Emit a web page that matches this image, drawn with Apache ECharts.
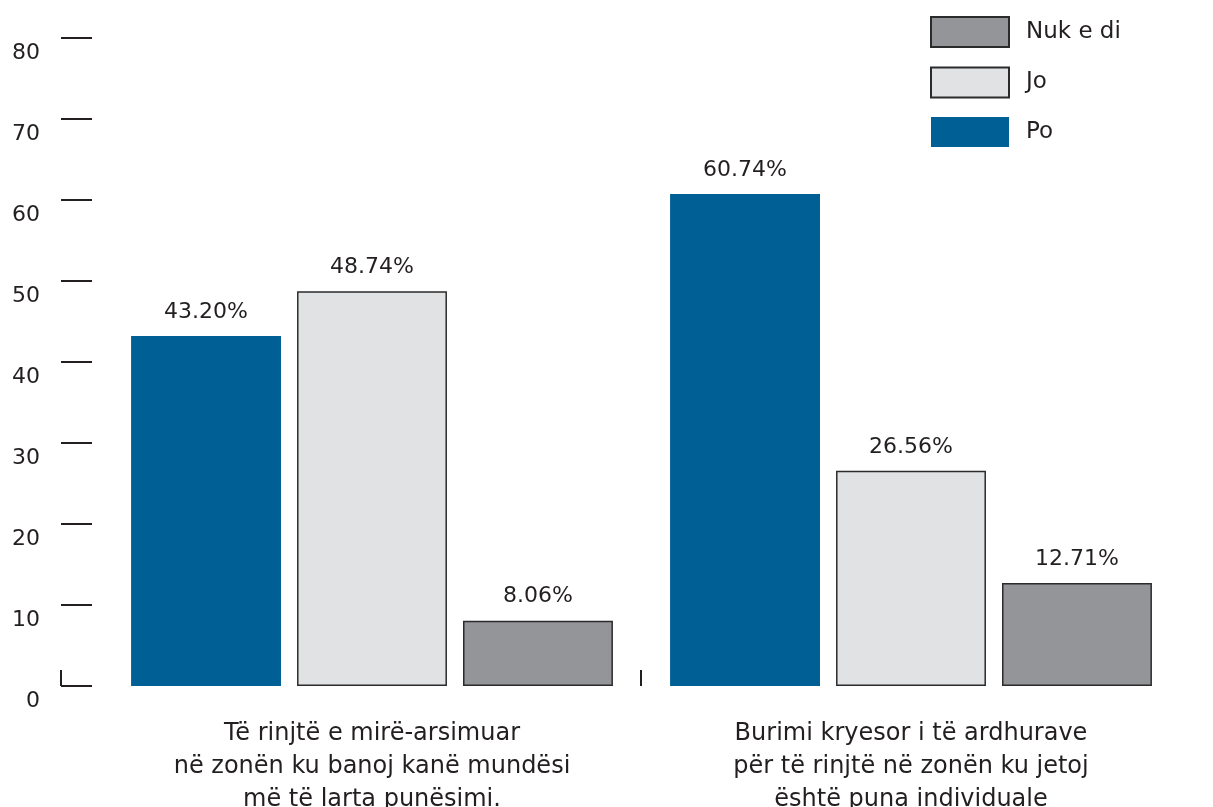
<!DOCTYPE html>
<html>
<head>
<meta charset="utf-8">
<script src="https://cdn.jsdelivr.net/npm/echarts@6/dist/echarts.min.js"></script>
<style>
html,body{margin:0;padding:0;background:#fff;}
#chart{width:1213px;height:807px;}
</style>
</head>
<body>
<div id="chart"></div>
<script>
const categories = [
  'Të rinjtë e mirë-arsimuar\nnë zonën ku banoj kanë mundësi\nmë të larta punësimi.',
  'Burimi kryesor i të ardhurave\npër të rinjtë në zonën ku jetoj\nështë puna individuale'
];
const seriesNames = ['Po', 'Jo', 'Nuk e di'];
const poValues = [43.20, 60.74];
const joValues = [48.74, 26.56];
const nukValues = [8.06, 12.71];
const yTicks = [0, 10, 20, 30, 40, 50, 60, 70, 80];
const boundaryTicks = [0, 1];

const FONT = '"DejaVu Sans"';
const TXT = '#231f20';
const colors = { 'Po': '#006096', 'Jo': '#e1e2e4', 'Nuk e di': '#939598' };
const borders = { 'Po': 0, 'Jo': 1.5, 'Nuk e di': 1.5 };
const valueSets = { 'Po': poValues, 'Jo': joValues, 'Nuk e di': nukValues };

const chart = echarts.init(document.getElementById('chart'), null, { renderer: 'canvas' });

const series = seriesNames.map(name => ({
  name: name,
  type: 'bar',
  xAxisIndex: 0,
  yAxisIndex: 0,
  barGap: '10.7%',
  barCategoryGap: '10.6%',
  data: valueSets[name],
  itemStyle: {
    color: colors[name],
    borderColor: '#2b2b2b',
    borderWidth: borders[name]
  },
  label: {
    show: true,
    position: 'top',
    distance: 13,
    fontFamily: FONT,
    fontSize: 22,
    color: TXT,
    formatter: p => p.value.toFixed(2) + '%'
  }
}));

// empty helper series on the second grid (category boundary ticks)
series.push({
  type: 'line',
  xAxisIndex: 1,
  yAxisIndex: 1,
  data: [],
  silent: true
});

chart.setOption({
  animation: false,
  backgroundColor: '#ffffff',
  textStyle: { fontFamily: FONT, color: TXT },
  legend: {
    orient: 'vertical',
    left: 930,
    top: 16,
    padding: 0,
    icon: 'rect',
    itemWidth: 78,
    itemHeight: 30,
    itemGap: 18.5,
    data: ['Nuk e di', 'Jo', 'Po'],
    textStyle: { fontFamily: FONT, fontSize: 23, color: TXT, padding: [4, 0, 0, 12] }
  },
  grid: [
    { left: 102.5, right: 32.5, top: 38, bottom: 121, containLabel: false, outerBoundsMode: 'none' },
    { left: 61, width: 870, top: 38, bottom: 121, containLabel: false, outerBoundsMode: 'none' }
  ],
  xAxis: [
    {
      type: 'category',
      gridIndex: 0,
      data: categories,
      axisLine: { show: false },
      axisTick: { show: false },
      axisLabel: {
        fontFamily: FONT,
        fontSize: 24,
        lineHeight: 33,
        color: TXT,
        margin: 31,
        interval: 0
      }
    },
    {
      type: 'value',
      gridIndex: 1,
      min: 0,
      max: 1.5,
      splitLine: { show: false },
      axisLine: { show: false },
      axisTick: { show: true, inside: true, length: 16, customValues: boundaryTicks, lineStyle: { color: TXT, width: 2 } },
      axisLabel: { show: false }
    }
  ],
  yAxis: [
    {
      type: 'value',
      gridIndex: 0,
      min: 0,
      max: 80,
      interval: 10,
      offset: 10.5,
      axisLine: { show: false },
      axisTick: { show: true, length: 31, lineStyle: { color: TXT, width: 2 } },
      splitLine: { show: false },
      axisLabel: {
        fontFamily: FONT,
        fontSize: 22,
        lineHeight: 30,
        color: TXT,
        margin: 52,
        align: 'right',
        verticalAlign: 'top',
        formatter: v => (yTicks.indexOf(v) >= 0 ? String(v) : '')
      }
    },
    {
      type: 'value',
      gridIndex: 1,
      min: 0,
      max: 80,
      show: false
    }
  ],
  series: series
});
</script>
</body>
</html>
